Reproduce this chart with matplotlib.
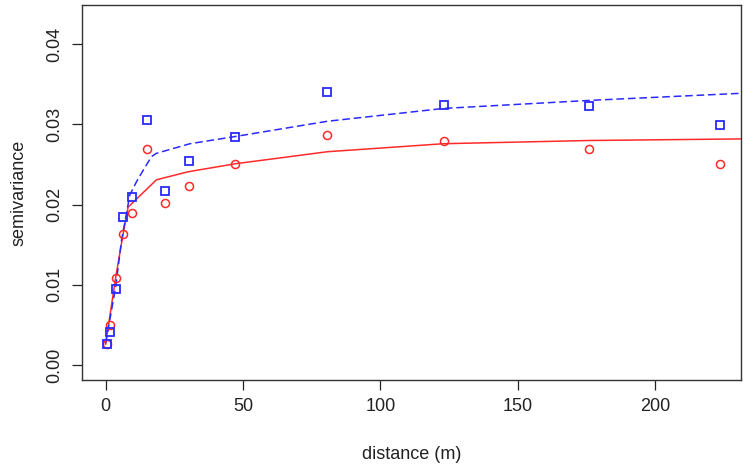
import matplotlib
matplotlib.use("Agg")
import matplotlib.pyplot as plt
from matplotlib import font_manager

# ---- data ----
lag_dist = [0.36, 1.5, 3.6, 6.3, 9.7, 14.9, 21.7, 30.3, 47.2, 80.7, 123.3, 175.8, 223.5]
gamma_red = [0.0026, 0.0050, 0.0109, 0.0163, 0.0189, 0.0270, 0.0202, 0.0223, 0.0251,
             0.0287, 0.0279, 0.0270, 0.0251]
gamma_blue = [0.0026, 0.0041, 0.0095, 0.0184, 0.0210, 0.0306, 0.0217, 0.0255, 0.0284,
              0.0341, 0.0324, 0.0323, 0.0299]

fit_red_x = [0, 3.7, 6.4, 8.2, 18.5, 30, 47.2, 80.7, 123, 176, 232]
fit_red_y = [0.0026, 0.0110, 0.0164, 0.0197, 0.0231, 0.0241, 0.0251, 0.0266, 0.0276,
             0.0280, 0.0282]
fit_blue_x = [0, 3.7, 5.8, 7.6, 8.8, 11.3, 13.7, 16.7, 18.5, 30.7, 47.2, 80.7, 123, 176, 232]
fit_blue_y = [0.0027, 0.0098, 0.0156, 0.0189, 0.0212, 0.0229, 0.0243, 0.0260, 0.0264,
              0.0276, 0.0285, 0.0304, 0.0320, 0.0330, 0.0339]

x_ticks = [0, 50, 100, 150, 200]
y_ticks = [0.00, 0.01, 0.02, 0.03, 0.04]
y_tick_labels = ["0.00", "0.01", "0.02", "0.03", "0.04"]

# ---- font ----
names = {f.name for f in font_manager.fontManager.ttflist}
fam = [n for n in ["Liberation Sans Narrow", "Liberation Sans", "DejaVu Sans"] if n in names]
plt.rcParams["font.family"] = fam

fig = plt.figure(figsize=(7.47, 4.66), dpi=100)
ax = fig.add_axes([81.7 / 747, 1 - 380 / 466, (741 - 81.7) / 747, (380 - 5) / 466])

ax.plot(fit_red_x, fit_red_y, color="#ff2a2a", lw=1.1, solid_joinstyle="round")
ax.plot(fit_blue_x, fit_blue_y, color="#2a2aff", lw=1.1, linestyle=(0, (5, 2.5)))
ax.plot(lag_dist, gamma_red, linestyle="none", marker="o", ms=5.8, mfc="none",
        mec="#ff2a2a", mew=1.1)
ax.plot(lag_dist, gamma_blue, linestyle="none", marker="s", ms=5.6, mfc="none",
        mec="#2a2aff", mew=1.3)

ax.set_xlim(-8.7, 231.2)
ax.set_ylim(-0.00187, 0.0449)
ax.set_xticks(x_ticks)
ax.set_xticklabels([str(v) for v in x_ticks])
ax.set_yticks(y_ticks)
ax.set_yticklabels(y_tick_labels, rotation=90, va="center")

ax.tick_params(direction="out", length=7, width=0.9, labelsize=13, pad=6, colors="#222222")
for s in ax.spines.values():
    s.set_linewidth(1.0)
    s.set_color("#333333")

ax.set_xlabel("distance (m)", fontsize=13, labelpad=22, color="#222222")
ax.set_ylabel("semivariance", fontsize=13, labelpad=14, color="#222222")

fig.savefig("out.png", dpi=100)
